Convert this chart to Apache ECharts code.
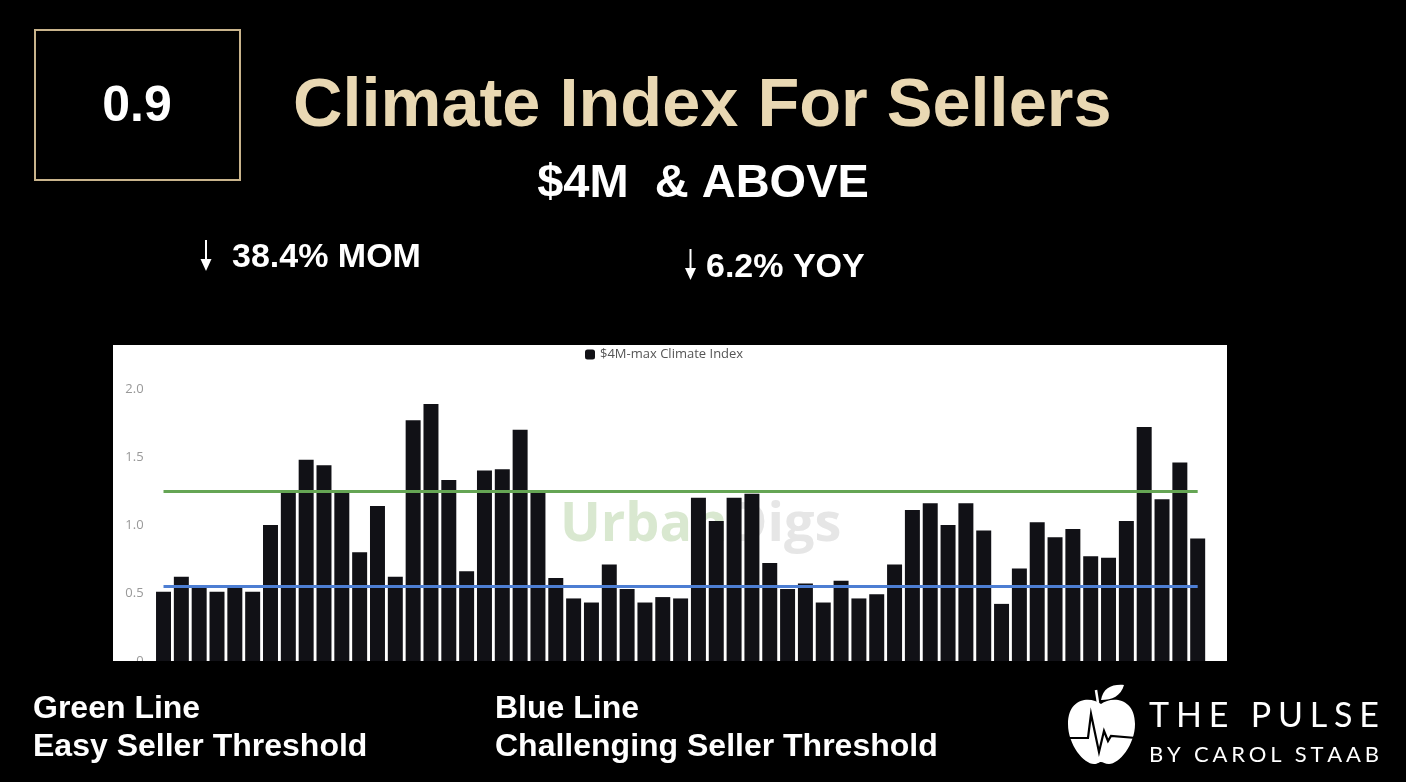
<!DOCTYPE html>
<html>
<head>
<meta charset="utf-8">
<style>
html,body{margin:0;padding:0;background:#000;}
#chart{width:1406px;height:782px;}
</style>
<script src="https://cdn.jsdelivr.net/npm/echarts@6/dist/echarts.min.js"></script>
</head>
<body>
<div id="chart"></div>
<script>
// ---- data ----
const categories = ['1','2','3','4','5','6','7','8','9','10','11','12','13','14','15','16','17','18','19','20',
  '21','22','23','24','25','26','27','28','29','30','31','32','33','34','35','36','37','38','39','40',
  '41','42','43','44','45','46','47','48','49','50','51','52','53','54','55','56','57','58','59'];
const climateIndex = [0.51,0.62,0.55,0.51,0.54,0.51,1.00,1.25,1.48,1.44,1.24,0.80,1.14,0.62,1.77,1.89,1.33,0.66,1.40,1.41,
  1.70,1.24,0.61,0.46,0.43,0.71,0.53,0.43,0.47,0.46,1.20,1.03,1.20,1.23,0.72,0.53,0.57,0.43,0.59,0.46,
  0.49,0.71,1.11,1.16,1.00,1.16,0.96,0.42,0.68,1.02,0.91,0.97,0.77,0.76,1.03,1.72,1.19,1.46,0.90];
const yTickLabels = ['0','0.5','1.0','1.5','2.0'];
const greenThreshold = 1.25;   // Easy Seller Threshold
const blueThreshold = 0.55;    // Challenging Seller Threshold
const seriesName = '$4M-max Climate Index';
const titleText = 'Climate Index For Sellers';
const currentValue = '0.9';
const momText = '38.4% MOM';
const yoyText = '6.2% YOY';

// ---- helpers ----
const mctx = document.createElement('canvas').getContext('2d');
function spacedText(text, x0, x1, yc, size, weight, family, color, z) {
  mctx.font = weight + ' ' + size + 'px ' + family;
  const chars = text.split('');
  const widths = chars.map(c => mctx.measureText(c).width);
  const total = widths.reduce((a, b) => a + b, 0);
  const gap = (x1 - x0 - total) / (chars.length - 1);
  const els = [];
  let x = x0;
  chars.forEach((c, i) => {
    if (c !== ' ') {
      els.push({type: 'text', z: z, style: {text: c, x: x, y: yc, fill: color,
        font: weight + ' ' + size + 'px ' + family, align: 'left', verticalAlign: 'middle'}});
    }
    x += widths[i] + gap;
  });
  return els;
}

// logo shapes
echarts.graphic.registerShape('appleBody', echarts.graphic.extendPath(
  'M1101 704 C1091 696 1068 697 1068 724 C1068 745 1084 764 1094 764 C1098 764 1099 762 1101 762 C1103 762 1105 764 1109 764 C1119 764 1135 745 1135 724 C1135 697 1111 696 1101 704 Z', {}));
echarts.graphic.registerShape('appleLeaf', echarts.graphic.extendPath(
  'M1101 700 C1103 688 1112 684 1124 685 C1121 696 1112 700 1101 700 Z', {}));

const chart = echarts.init(document.getElementById('chart'), null, {renderer: 'canvas'});

const T = (text, x, y, font, fill, z, align) => ({type: 'text', z: z,
  style: {text: text, x: x, y: y, fill: fill, font: font, align: align || 'left', verticalAlign: 'middle'}});

const graphics = [
  {type: 'rect', z: -10, shape: {x: 113, y: 345, width: 1114, height: 316}, style: {fill: '#ffffff'}},
  {type: 'text', z: 1, style: {x: 560, y: 526, verticalAlign: 'middle',
    text: '{g|Urban}{d|Digs}',
    rich: {
      g: {fill: '#d9e8d0', font: 'bold 54px "Open Sans"'},
      d: {fill: '#e6e6e6', font: 'bold 54px "Open Sans"'}
    }}},
  {type: 'rect', z: 50, shape: {x: 100, y: 661, width: 1140, height: 26}, style: {fill: '#000'}},
  {type: 'rect', z: 10, shape: {x: 35, y: 30, width: 205, height: 150}, style: {fill: 'none', stroke: '#c9b48c', lineWidth: 2}},
  T(currentValue, 137, 107, 'bold 50px "Liberation Sans"', '#fff', 10, 'center'),
  T(titleText, 293, 107, 'bold 68.5px "Liberation Sans"', '#e9d8b3', 10),
  T('$4M  & ABOVE', 703, 184, 'bold 47px "Liberation Sans"', '#fff', 10, 'center'),
  {type: 'line', z: 10, shape: {x1: 206, y1: 240, x2: 206, y2: 262}, style: {stroke: '#fff', lineWidth: 2}},
  {type: 'polygon', z: 10, shape: {points: [[200.5, 259], [211.5, 259], [206, 271]]}, style: {fill: '#fff'}},
  T(momText, 232, 258, 'bold 34px "Liberation Sans"', '#fff', 10),
  {type: 'line', z: 10, shape: {x1: 690.5, y1: 249, x2: 690.5, y2: 271}, style: {stroke: '#fff', lineWidth: 2}},
  {type: 'polygon', z: 10, shape: {points: [[685, 268], [696, 268], [690.5, 280]]}, style: {fill: '#fff'}},
  T(yoyText, 706, 268, 'bold 34px "Liberation Sans"', '#fff', 10),
  T('Green Line', 33, 709, 'bold 32px "Liberation Sans"', '#fff', 60),
  T('Easy Seller Threshold', 33, 747, 'bold 32px "Liberation Sans"', '#fff', 60),
  T('Blue Line', 495, 709, 'bold 32px "Liberation Sans"', '#fff', 60),
  T('Challenging Seller Threshold', 495, 747, 'bold 32px "Liberation Sans"', '#fff', 60),
  {type: 'appleBody', z: 60, style: {fill: '#fff'}},
  {type: 'appleLeaf', z: 60, style: {fill: '#fff'}},
  {type: 'line', z: 60, shape: {x1: 1098, y1: 703, x2: 1096, y2: 690}, style: {stroke: '#fff', lineWidth: 2.5}},
  {type: 'polyline', z: 61, shape: {points: [[1067, 738], [1088, 738], [1091, 714], [1099, 752], [1104, 731], [1108, 741], [1111, 736], [1136, 738]]}, style: {stroke: '#000', lineWidth: 2.2, fill: 'none'}}
].concat(
  spacedText('THE PULSE', 1149, 1379, 716, 34, 'normal', 'Lato', '#ffffff', 60),
  spacedText('BY CAROL STAAB', 1149, 1379, 755, 22, 'normal', 'Lato', '#ffffff', 60)
);

const option = {
  backgroundColor: '#000',
  animation: false,
  legend: {
    data: [seriesName],
    left: 580, top: 343,
    itemWidth: 10, itemHeight: 10,
    icon: 'roundRect',
    textStyle: {color: '#555', fontSize: 13, fontFamily: 'Open Sans'}
  },
  grid: {left: 154.6, right: 199.4, top: 389, bottom: 121, containLabel: false},
  xAxis: {
    type: 'category', data: categories,
    axisLine: {show: false}, axisTick: {show: false}, axisLabel: {show: false}, splitLine: {show: false}
  },
  yAxis: {
    type: 'value', min: 0, max: 2, interval: 0.5,
    axisLine: {show: false}, axisTick: {show: false}, splitLine: {show: false},
    axisLabel: {
      color: '#999', fontSize: 13, fontFamily: 'Open Sans', margin: 11,
      formatter: v => yTickLabels[Math.round(v / 0.5)]
    }
  },
  series: [{
    name: seriesName, type: 'bar', data: climateIndex,
    barCategoryGap: '16%',
    itemStyle: {color: '#111116'},
    markLine: {
      silent: true, symbol: 'none', label: {show: false},
      data: [
        [{coord: [0, greenThreshold], lineStyle: {color: '#65a554', width: 3, type: 'solid'}}, {coord: [categories.length - 1, greenThreshold]}],
        [{coord: [0, blueThreshold], lineStyle: {color: '#4d7ed3', width: 3, type: 'solid'}}, {coord: [categories.length - 1, blueThreshold]}]
      ]
    }
  }],
  graphic: {elements: graphics}
};
chart.setOption(option);
</script>
</body>
</html>
